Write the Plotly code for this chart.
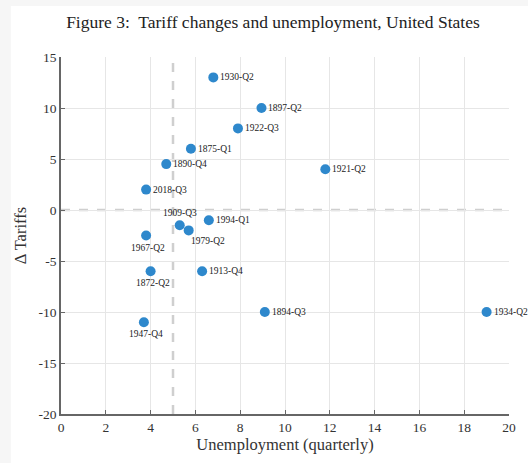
import plotly.graph_objects as go

# Quarterly episodes: unemployment rate vs change in tariffs
episodes = ["1930-Q2", "1897-Q2", "1922-Q3", "1875-Q1", "1890-Q4", "2018-Q3",
            "1921-Q2", "1909-Q3", "1979-Q2", "1994-Q1", "1967-Q2", "1872-Q2",
            "1913-Q4", "1894-Q3", "1934-Q2", "1947-Q4"]
unemployment = [6.8, 8.95, 7.9, 5.8, 4.7, 3.8,
                11.8, 5.3, 5.7, 6.6, 3.8, 4.0,
                6.3, 9.1, 19.0, 3.7]
tariff_change = [13.0, 10.0, 8.0, 6.0, 4.5, 2.0,
                 4.0, -1.5, -2.0, -1.0, -2.5, -6.0,
                 -6.0, -10.0, -10.0, -11.0]
# where each label sits relative to its point
label_side = ["right", "right", "right", "right", "right", "right",
              "right", "above", "below-right", "right", "below", "below",
              "right", "right", "right", "below"]

x_ticks = [0, 2, 4, 6, 8, 10, 12, 14, 16, 18, 20]
y_ticks = [-20, -15, -10, -5, 0, 5, 10, 15]
y_tick_text = ["-20", "-15", "-10", "-5", "0", "5", "10", "15"]

unemp_threshold = 5
serif = "Liberation Serif, DejaVu Serif, serif"

fig = go.Figure()

fig.add_trace(go.Scatter(
    x=unemployment, y=tariff_change, mode="markers",
    marker=dict(size=10, color="#2e88cc"),
    cliponaxis=False, showlegend=False, hovertext=episodes,
))

offsets = {
    "right": dict(xanchor="left", yanchor="middle", xshift=5, yshift=0),
    "above": dict(xanchor="center", yanchor="bottom", xshift=0, yshift=5),
    "below": dict(xanchor="center", yanchor="top", xshift=2, yshift=-5),
    "below-right": dict(xanchor="left", yanchor="top", xshift=0, yshift=-4),
}
for name, ux, dt, side in zip(episodes, unemployment, tariff_change, label_side):
    fig.add_annotation(x=ux, y=dt, xref="x", yref="y", text=name, showarrow=False,
                       font=dict(family=serif, size=9.5, color="#222"), **offsets[side])

# reference lines
fig.add_shape(type="line", xref="x", yref="y", x0=unemp_threshold, x1=unemp_threshold,
              y0=-20, y1=15, line=dict(color="#cfcfcf", width=2.5, dash="dash"), layer="below")
fig.add_shape(type="line", xref="x", yref="y", x0=0, x1=20, y0=0, y1=0,
              line=dict(color="#cfcfcf", width=2.5, dash="dash"), layer="below")

# page frame: faint strip along the top and left edges
fig.add_shape(type="rect", xref="paper", yref="paper",
              x0=-0.112, x1=1.05, y0=-0.2, y1=1.143,
              fillcolor="white", line=dict(width=0), layer="below")

fig.update_layout(
    width=528, height=463,
    margin=dict(l=61, r=17, t=57, b=49),
    paper_bgcolor="#f6f6f6", plot_bgcolor="white",
    font=dict(family=serif, color="#333"),
    title=dict(text="Figure 3:  Tariff changes and unemployment, United States",
               x=0.517, xanchor="center", y=0.952, yanchor="middle",
               font=dict(family=serif, size=17.5, color="#222")),
)
fig.update_xaxes(
    range=[0, 20], tickvals=x_ticks, showgrid=True, gridcolor="#e6e6e6", gridwidth=1,
    zeroline=False, showline=True, linecolor="#666", linewidth=1.5,
    ticks="inside", ticklen=4, tickcolor="#666",
    tickfont=dict(family=serif, size=13.5, color="#333"),
    title=dict(text="Unemployment (quarterly)", font=dict(family=serif, size=16.5, color="#333"), standoff=3),
)
fig.update_yaxes(
    range=[-20, 15], tickvals=y_ticks, ticktext=y_tick_text, showgrid=True, gridcolor="#e6e6e6", gridwidth=1,
    zeroline=False, showline=True, linecolor="#666", linewidth=1.5,
    ticks="inside", ticklen=4, tickcolor="#666",
    tickfont=dict(family=serif, size=13.5, color="#333"),
    title=dict(text="Δ Tariffs", font=dict(family=serif, size=16.5, color="#333"), standoff=8),
)

fig.write_html("out.html")
